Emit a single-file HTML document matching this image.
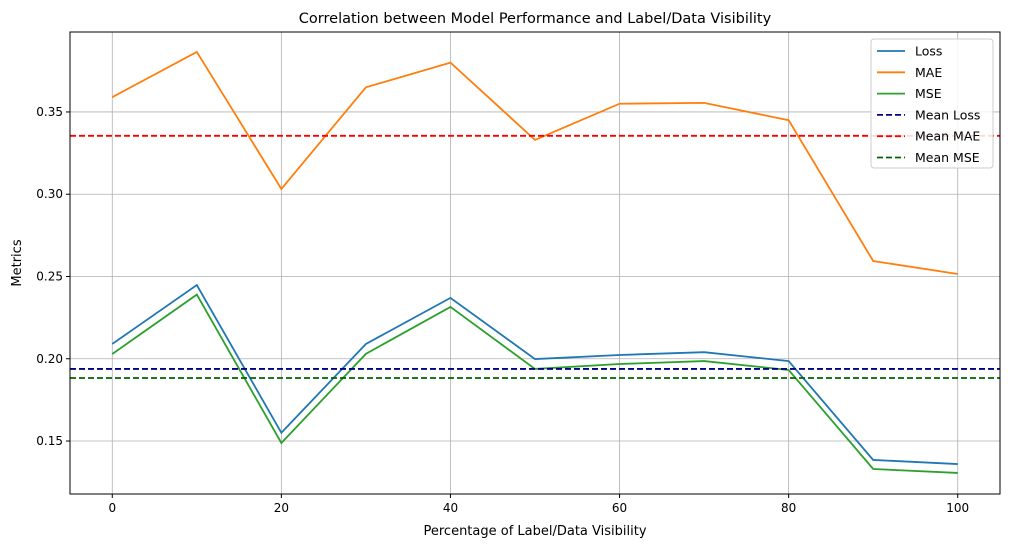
<!DOCTYPE html>
<html><head><meta charset="utf-8"><style>
body{margin:0;background:#fff;font-family:"Liberation Sans","DejaVu Sans",sans-serif}
svg text{font-family:"DejaVu Sans","Liberation Sans",sans-serif}
</style></head><body>
<svg id="chart" width="1010" height="547"></svg>
<script>
const xs=[0,10,20,30,40,50,60,70,80,90,100];
const loss=[0.209,0.2448,0.155,0.209,0.237,0.1998,0.2023,0.204,0.1986,0.1385,0.136];
const mae=[0.359,0.3865,0.3032,0.365,0.380,0.333,0.355,0.3555,0.345,0.2594,0.2515];
const mse=[0.2029,0.239,0.1488,0.203,0.2315,0.1938,0.1968,0.1986,0.1932,0.133,0.1306];
const meanLoss=0.1938, meanMae=0.3355, meanMse=0.1883;
const xTicks=[0,20,40,60,80,100];
const yTicks=[0.15,0.20,0.25,0.30,0.35];
const L=70,R=1000,T=32,B=494;
const X=v=>L+(v+5)/110*(R-L);
const Y=v=>B-(v-0.1178)/(0.3986-0.1178)*(B-T);
const svg=document.getElementById('chart');
const NS='http://www.w3.org/2000/svg';
function mk(tag,attrs,name,txt){const e=document.createElementNS(NS,tag);for(const k in attrs)e.setAttribute(k,attrs[k]);


if(txt!==undefined)e.textContent=txt;svg.appendChild(e);return e;}
mk('text',{x:535,y:23,'text-anchor':'middle','font-size':14.5},'chart-title','Correlation between Model Performance and Label/Data Visibility');
xTicks.forEach(t=>{const x=X(t);mk('line',{x1:x,x2:x,y1:T,y2:B,stroke:'#b0b0b0','stroke-width':0.8},'x-grid-line');
mk('line',{x1:x,x2:x,y1:B,y2:B+4,stroke:'#000'},'x-tick');
mk('text',{x:x,y:B+18,'text-anchor':'middle','font-size':12},'x-tick-label',String(t));});
yTicks.forEach(t=>{const y=Y(t);mk('line',{x1:L,x2:R,y1:y,y2:y,stroke:'#b0b0b0','stroke-width':0.8},'y-grid-line');
mk('line',{x1:L-4,x2:L,y1:y,y2:y,stroke:'#000'},'y-tick');
mk('text',{x:L-7,y:y+4,'text-anchor':'end','font-size':12},'y-tick-label',t.toFixed(2));});
mk('text',{x:535,y:535,'text-anchor':'middle','font-size':13},'x-axis-title','Percentage of Label/Data Visibility');
mk('text',{x:21,y:263,'text-anchor':'middle','font-size':13,transform:'rotate(-90 21 263)'},'y-axis-title','Metrics');
function series(d,c,name){mk('polyline',{points:xs.map((x,i)=>X(x)+','+Y(d[i])).join(' '),fill:'none',stroke:c,'stroke-width':1.8},name);}
series(loss,'#1f77b4','loss-line');series(mae,'#ff7f0e','mae-line');series(mse,'#2ca02c','mse-line');
function hline(v,c,name){mk('line',{x1:L,x2:R,y1:Y(v),y2:Y(v),stroke:c,'stroke-width':1.8,'stroke-dasharray':'6,3'},name);}
hline(meanLoss,'#00008b','mean-loss-line');hline(meanMae,'#ff0000','mean-mae-line');hline(meanMse,'#006400','mean-mse-line');
mk('rect',{x:L,y:T,width:R-L,height:B-T,fill:'none',stroke:'#000','stroke-width':1},'plot-frame');
mk('rect',{x:871,y:39,width:122,height:129,fill:'#fff','fill-opacity':0.85,stroke:'#ccc',rx:3},'legend-box');
const items=[['Loss','#1f77b4',0],['MAE','#ff7f0e',0],['MSE','#2ca02c',0],['Mean Loss','#00008b',1],['Mean MAE','#ff0000',1],['Mean MSE','#006400',1]];
items.forEach((it,i)=>{const y=51+i*21.3;
const a={x1:877,x2:905,y1:y,y2:y,stroke:it[1],'stroke-width':1.8};if(it[2])a['stroke-dasharray']='6,3';
mk('line',a,'legend-swatch');
mk('text',{x:915,y:y+4.5,'font-size':12.5},'legend-entry',it[0]);});
</script>
</body></html>
